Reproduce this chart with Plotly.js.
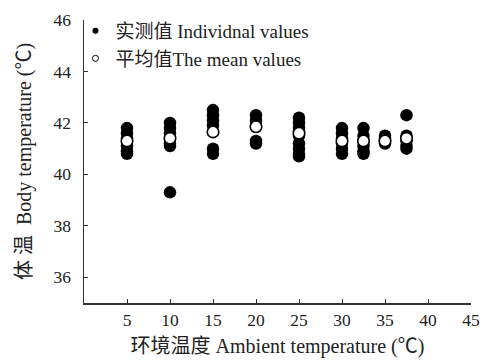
<!DOCTYPE html>
<html><head><meta charset="utf-8">
<script src="https://cdn.plot.ly/plotly-3.0.1.min.js"></script>
<style>html,body{margin:0;padding:0;background:#fff}#c{width:491px;height:360px}</style>
</head><body><div id="c"></div>
<script>
// Ambient temperature groups (°C)
const ambient = [5, 10, 15, 20, 25, 30, 32.5, 35, 37.5];
// Individual body temperatures per ambient group (°C)
const individuals = [
  [41.8, 41.6, 41.4, 41.1, 40.9, 40.8],
  [42.0, 41.8, 41.6, 41.2, 41.1, 39.3],
  [42.5, 42.3, 42.1, 41.9, 41.0, 40.8],
  [42.3, 42.1, 41.9, 41.3, 41.2],
  [42.2, 42.0, 41.8, 41.5, 41.2, 41.0, 40.8, 40.7],
  [41.8, 41.6, 41.4, 41.2, 41.0, 40.8],
  [41.8, 41.5, 41.3, 41.1, 40.9, 40.8],
  [41.5, 41.4, 41.3, 41.2],
  [42.3, 41.5, 41.3, 41.1, 41.0]
];
// Mean body temperature per group (°C)
const means = [41.3, 41.4, 41.65, 41.85, 41.6, 41.3, 41.3, 41.3, 41.4];
const xTicks = [5, 10, 15, 20, 25, 30, 35, 40, 45];
const yTicks = [36, 38, 40, 42, 44, 46];
const seriesNames = ['实测值 Individnal values', '平均值The mean values'];

const ix = [], iy = [];
ambient.forEach((a, i) => individuals[i].forEach(v => { ix.push(a); iy.push(v); }));

const serif = "'Liberation Serif', 'Times New Roman', 'Noto Sans CJK SC', serif";
const ink = '#222';
const traces = [
  {x: ix, y: iy, type: 'scatter', mode: 'markers', showlegend: false,
   marker: {color: '#000', size: 12.5, line: {width: 0}}},
  {x: ambient, y: means, type: 'scatter', mode: 'markers', showlegend: false,
   marker: {color: '#fff', size: 11.5, line: {color: '#000', width: 1.6}}},
  // legend entries (smaller symbols, as in the reference legend)
  {x: [null], y: [null], type: 'scatter', mode: 'markers', name: seriesNames[0],
   marker: {color: '#000', size: 6, line: {width: 0}}},
  {x: [null], y: [null], type: 'scatter', mode: 'markers', name: seriesNames[1],
   marker: {color: '#fff', size: 6, line: {color: '#000', width: 1}}}
];
const layout = {
  width: 491, height: 360,
  margin: {l: 84, r: 20, t: 17, b: 57},
  paper_bgcolor: '#fff', plot_bgcolor: '#fff',
  font: {family: serif, size: 17, color: ink},
  showlegend: true,
  legend: {x: -0.022, y: 1.029, xanchor: 'left', yanchor: 'top', bgcolor: 'rgba(0,0,0,0)',
           font: {family: serif, size: 19, color: ink}, itemsizing: 'trace', itemwidth: 30,
           tracegroupgap: 0},
  xaxis: {range: [0, 45], tickvals: xTicks, ticktext: xTicks.map(String), showgrid: false, zeroline: false,
          showline: true, linecolor: '#333', linewidth: 1.5, ticks: 'inside', ticklen: 4, tickcolor: '#333',
          tickfont: {family: serif, size: 17.5, color: ink}, automargin: false,
          title: {text: '环境温度 Ambient temperature (℃)', font: {family: serif, size: 20, color: ink}, standoff: 10}},
  yaxis: {range: [35, 46], tickvals: yTicks, ticktext: yTicks.map(String), showgrid: false, zeroline: false,
          showline: true, linecolor: '#333', linewidth: 1.5, ticks: 'inside', ticklen: 4, tickcolor: '#333',
          tickfont: {family: serif, size: 17.5, color: ink}, ticklabelstandoff: 8, automargin: false,
          title: {text: '体 温  Body temperature (℃)', font: {family: serif, size: 20, color: ink}, standoff: 16}}
};
Plotly.newPlot('c', traces, layout, {displayModeBar: false, staticPlot: true});
</script></body></html>
